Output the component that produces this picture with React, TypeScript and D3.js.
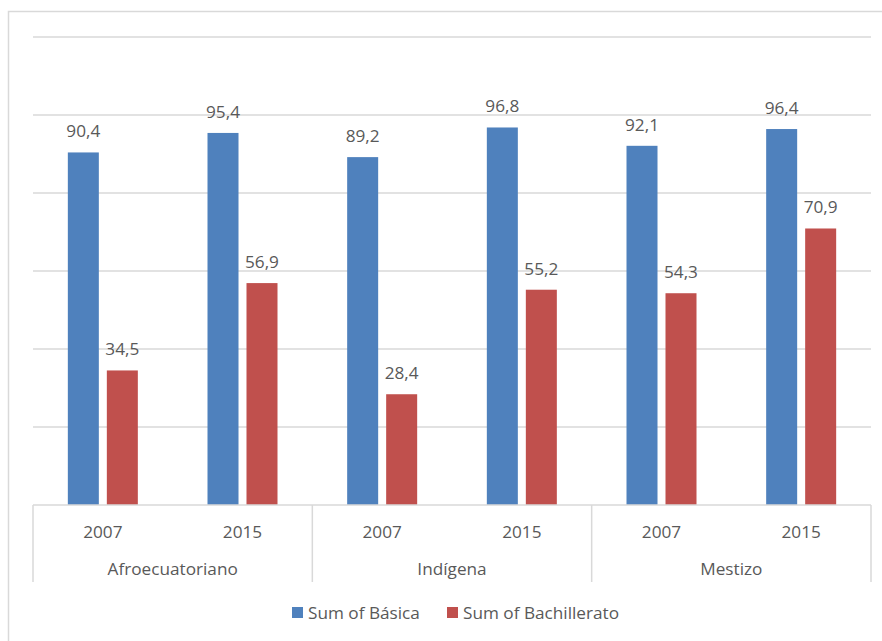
import React from "react";
import * as d3 from "d3";

const groups = ["Afroecuatoriano", "Indígena", "Mestizo"];
const years = ["2007", "2015"];
const seriesNames = ["Sum of Básica", "Sum of Bachillerato"];
const basica = [90.4, 95.4, 89.2, 96.8, 92.1, 96.4];
const bachillerato = [34.5, 56.9, 28.4, 55.2, 54.3, 70.9];
const yTicks = [0, 20, 40, 60, 80, 100, 120];

const colors = ["#4F81BD", "#C0504D"];
const textColor = "#595959";
const lineColor = "#D9D9D9";
const font = "'Open Sans', 'Liberation Sans', sans-serif";
const fontSize = 17.2;

const W = 882;
const H = 641;
const plot = { left: 33, right: 871, top: 37, bottom: 505 };

export default function App() {
  const slots = groups.flatMap((g) => years.map((yr) => `${g}|${yr}`));
  const x0 = d3.scaleBand<string>().domain(slots).range([plot.left, plot.right]).paddingInner(0).paddingOuter(0);
  const pairWidth = 70;
  const x1 = d3
    .scaleBand<string>()
    .domain(seriesNames)
    .range([(x0.bandwidth() - pairWidth) / 2, (x0.bandwidth() + pairWidth) / 2])
    .paddingInner(0.205)
    .paddingOuter(0);
  const y = d3.scaleLinear().domain([0, 120]).range([plot.bottom, plot.top]);
  const groupWidth = (plot.right - plot.left) / groups.length;
  const fmt = (v: number) => d3.format(".1f")(v).replace(".", ",");
  const seriesValues = [basica, bachillerato];

  return (
    <svg width={W} height={H} style={{ position: "absolute", left: 0, top: 0, background: "#fff" }} fontFamily={font}>
      <rect x={8.5} y={11.5} width={W + 10} height={H + 10} fill="#fff" stroke={lineColor} strokeWidth={1.5} />
      {yTicks.slice(1).map((t) => (
        <line key={t} x1={plot.left} x2={plot.right} y1={y(t)} y2={y(t)} stroke={lineColor} strokeWidth={1.5} />
      ))}
      {slots.map((s, i) =>
        seriesNames.map((name, k) => {
          const v = seriesValues[k][i];
          const bx = (x0(s) as number) + (x1(name) as number);
          return (
            <g key={s + name}>
              <rect x={bx} y={y(v)} width={x1.bandwidth()} height={y(0) - y(v)} fill={colors[k]} />
              <text
                x={bx + x1.bandwidth() / 2}
                y={y(v) - 15}
                textAnchor="middle"
                fontSize={fontSize}
                fill={textColor}
              >
                {fmt(v)}
              </text>
            </g>
          );
        })
      )}
      <line x1={plot.left} x2={plot.right} y1={plot.bottom} y2={plot.bottom} stroke={lineColor} strokeWidth={1.5} />
      {d3.range(groups.length + 1).map((i) => (
        <line
          key={i}
          x1={plot.left + i * groupWidth}
          x2={plot.left + i * groupWidth}
          y1={plot.bottom}
          y2={582}
          stroke={lineColor}
          strokeWidth={1.5}
        />
      ))}
      {slots.map((s) => (
        <text key={s} x={(x0(s) as number) + x0.bandwidth() / 2} y={538} textAnchor="middle" fontSize={fontSize} fill={textColor}>
          {s.split("|")[1]}
        </text>
      ))}
      {groups.map((g, i) => (
        <text key={g} x={plot.left + (i + 0.5) * groupWidth} y={575} textAnchor="middle" fontSize={fontSize} fill={textColor}>
          {g}
        </text>
      ))}
      {seriesNames.map((name, k) => {
        const lx = [292, 447][k];
        return (
          <g key={name}>
            <rect x={lx} y={607} width={11} height={11} fill={colors[k]} />
            <text x={lx + 16} y={619} fontSize={fontSize} fill={textColor}>
              {name}
            </text>
          </g>
        );
      })}
    </svg>
  );
}
